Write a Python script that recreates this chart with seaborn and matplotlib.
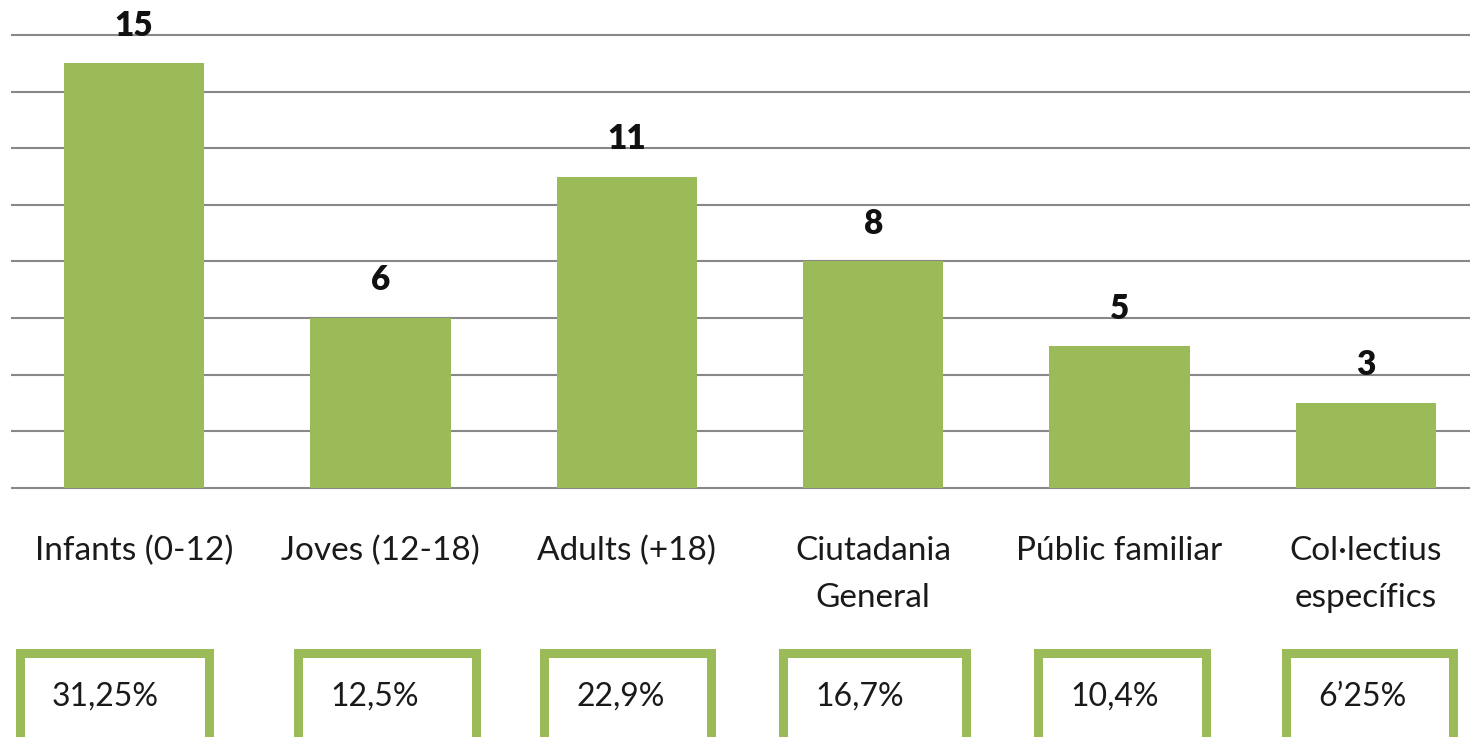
import matplotlib
matplotlib.use("Agg")
import matplotlib.pyplot as plt
import seaborn as sns
import pandas as pd
from matplotlib.patches import Rectangle

# ---- data ----
categories = ["Infants (0-12)", "Joves (12-18)", "Adults (+18)",
              "Ciutadania\nGeneral", "Públic familiar", "Col·lectius\nespecífics"]
values = [15, 6, 11, 8, 5, 3]
percentages = ["31,25%", "12,5%", "22,9%", "16,7%", "10,4%", "6’25%"]
y_ticks = [0, 2, 4, 6, 8, 10, 12, 14, 16]

# ---- style ----
sns.set_theme(style="white")
plt.rcParams['font.family'] = ['Lato', 'DejaVu Sans']

GREEN = "#9BBB59"
GRID = "#888888"
TEXT = "#1a1a1a"

W, H = 1473, 737
fig = plt.figure(figsize=(W / 100, H / 100), dpi=100)

# axes placement in pixels
ax_left, ax_right = 10.8, 1470
y0_px, y16_px = 488, 35
ppu = (y0_px - y16_px) / 16.0
pad_u = 0.06
ax_bottom_px = y0_px + pad_u * ppu
ax_top_px = y16_px - pad_u * ppu
ax = fig.add_axes([ax_left / W, (H - ax_bottom_px) / H,
                   (ax_right - ax_left) / W, (ax_bottom_px - ax_top_px) / H])

df = pd.DataFrame({"cat": categories, "val": values})
sns.barplot(data=df, x="cat", y="val", color=GREEN, saturation=1,
            width=0.57, linewidth=0, edgecolor=GREEN, ax=ax)

ax.set_ylim(-pad_u, 16 + pad_u)
ax.set_xlim(-0.5, 5.422)
ax.set_yticks(y_ticks)
ax.yaxis.grid(True, color=GRID, linewidth=1.5)
ax.set_axisbelow(True)
for s in ax.spines.values():
    s.set_visible(False)
ax.set_xlabel("")
ax.set_ylabel("")
ax.tick_params(left=False, bottom=False, labelleft=False)
ax.tick_params(axis="x", pad=27, labelsize=24, labelcolor=TEXT)
for lab in ax.get_xticklabels():
    lab.set_linespacing(1.72)

# value labels
for i, v in enumerate(values):
    ax.annotate(str(v), xy=(i, v), xytext=(0, 20), textcoords="offset points",
                ha="center", va="baseline", fontsize=24, fontweight="heavy",
                color="#111111")

# percentage boxes
box_left = [15, 293, 539, 778, 1033, 1281]
box_right = [213, 480, 715, 970, 1210, 1457]
border_px = 9
box_top = 648
for l, r, p in zip(box_left, box_right, percentages):
    x0 = (l + border_px / 2) / W
    x1 = (r - border_px / 2) / W
    yt = (H - (box_top + border_px / 2)) / H
    rect = Rectangle((x0, -0.1), x1 - x0, yt + 0.1, transform=fig.transFigure,
                     facecolor="white", edgecolor=GREEN,
                     linewidth=border_px * 72 / 100, clip_on=False)
    fig.patches.append(rect)
    fig.text((l + 37) / W, (H - 697) / H, p, ha="left", va="center",
             fontsize=23, color=TEXT)

fig.savefig("out.png", dpi=100)
